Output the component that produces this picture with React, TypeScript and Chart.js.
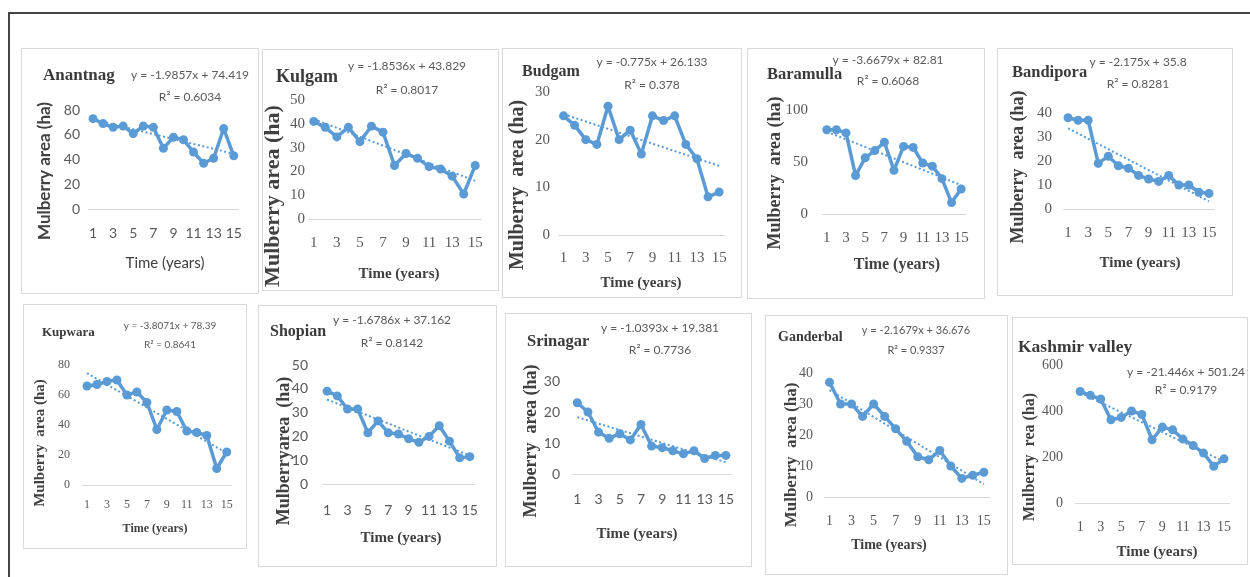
import { useEffect, useRef } from "react";
import { Chart, registerables } from "chart.js";

Chart.register(...registerables);

// Time axis (years 1..15)
const years = ["1", "2", "3", "4", "5", "6", "7", "8", "9", "10", "11", "12", "13", "14", "15"];

// Mulberry area (ha) per district
const anantnagArea = [73, 69, 66, 67, 61, 67, 66, 49, 58, 56, 46, 37, 41, 65, 43];
const kulgamArea = [41, 38.5, 34.5, 38.5, 32.5, 39, 36.5, 22.5, 27.5, 25.5, 22, 21, 18, 10.5, 22.5];
const budgamArea = [25, 23, 20, 19, 27, 20, 22, 17, 25, 24, 25, 19, 16, 8, 9];
const baramullaArea = [81, 81, 78, 37, 54, 61, 69, 42, 65, 64, 49, 46, 34, 11, 24];
const bandiporaArea = [38, 37, 37, 19, 22, 18, 17, 14, 12.5, 11.5, 14, 10, 10, 7, 6.5];
const kupwaraArea = [66, 67, 69, 70, 60, 62, 55, 37, 50, 49, 36, 35, 33, 11, 22];
const shopianArea = [39, 37, 31.5, 31.5, 21.5, 26.5, 21.5, 21, 19, 17.5, 20, 24.5, 18, 11, 11.5];
const srinagarArea = [23, 20, 13.5, 11.5, 13, 11, 16, 9, 8.5, 7.5, 6.5, 7.5, 5, 6, 6];
const ganderbalArea = [37, 30, 30, 26, 30, 26, 22, 18, 13, 12, 15, 10, 6, 7, 8];
const kashmirArea = [485, 468, 452, 362, 372, 400, 385, 275, 330, 318, 278, 250, 217, 160, 192];

// Linear trend lines (y = slope * x + intercept) and their R²
const districtNames = ["Anantnag", "Kulgam", "Budgam", "Baramulla", "Bandipora", "Kupwara", "Shopian", "Srinagar", "Ganderbal", "Kashmir valley"];
const trendSlopes = [-1.9857, -1.8536, -0.775, -3.6679, -2.175, -3.8071, -1.6786, -1.0393, -2.1679, -21.446];
const trendIntercepts = [74.419, 43.829, 26.133, 82.81, 35.8, 78.39, 37.162, 19.381, 36.676, 501.24];
const rSquared = ["0.6034", "0.8017", "0.378", "0.6068", "0.8281", "0.8641", "0.8142", "0.7736", "0.9337", "0.9179"];

// Axis ranges and labels
const yMaxima = [80, 50, 30, 100, 40, 80, 50, 30, 40, 600];
const ySteps = [20, 10, 10, 50, 10, 20, 10, 10, 10, 200];
const yAxisTitles = [
  "Mulberry area (ha)",
  "Mulberry area (ha)",
  "Mulberry  area (ha)",
  "Mulberry  area (ha)",
  "Mulberry  area (ha)",
  "Mulberry  area (ha)",
  "Mulberryarea  (ha)",
  "Mulberry  area (ha)",
  "Mulberry  area (ha)",
  "Mulberry  rea (ha)",
];
const xAxisTitle = "Time (years)";

const areaSeries = [anantnagArea, kulgamArea, budgamArea, baramullaArea, bandiporaArea, kupwaraArea, shopianArea, srinagarArea, ganderbalArea, kashmirArea];

const BLUE = "#5B9BD5";
const SERIF = "'Liberation Serif', 'Times New Roman', serif";
const SANS = "Lato, 'Open Sans', sans-serif";
const TEXT_DARK = "#404040";
const TEXT_GREY = "#595959";

type Font = { family: string; size: number; weight?: string };
type Layout = {
  box: [number, number, number, number];
  plot: [number, number, number, number];
  yTickRight: number;
  xTickY: number;
  tick: Font;
  title: { x: number; y: number; size: number };
  eq: { x: number; y1: number; y2: number; size: number };
  yTitle: { x: number; y: number } & Font;
  xTitle: { x: number; y: number } & Font;
};

// Placement of each small panel on the page
const layouts: Layout[] = [
  {
    box: [21, 48, 238, 246], plot: [88, 110, 242, 209], yTickRight: 80, xTickY: 233,
    tick: { family: SANS, size: 14 },
    title: { x: 43, y: 76, size: 17 },
    eq: { x: 190, y1: 75, y2: 97, size: 12 },
    yTitle: { x: 45, y: 171, family: SANS, size: 17, weight: "bold" },
    xTitle: { x: 165, y: 263, family: SANS, size: 15, weight: "normal" },
  },
  {
    box: [262, 49, 237, 242], plot: [308, 100, 490, 219], yTickRight: 305, xTickY: 243,
    tick: { family: SERIF, size: 15 },
    title: { x: 276, y: 77, size: 18 },
    eq: { x: 407, y1: 66, y2: 90, size: 12 },
    yTitle: { x: 273, y: 196, family: SERIF, size: 22, weight: "bold" },
    xTitle: { x: 399, y: 274, family: SERIF, size: 15, weight: "bold" },
  },
  {
    box: [502, 48, 240, 250], plot: [558, 92, 730, 235], yTickRight: 550, xTickY: 258,
    tick: { family: SERIF, size: 15 },
    title: { x: 522, y: 72, size: 16 },
    eq: { x: 652, y1: 62, y2: 85, size: 12 },
    yTitle: { x: 518, y: 185, family: SERIF, size: 20, weight: "bold" },
    xTitle: { x: 641, y: 283, family: SERIF, size: 15, weight: "bold" },
  },
  {
    box: [747, 48, 238, 251], plot: [822, 110, 973, 214], yTickRight: 808, xTickY: 238,
    tick: { family: SERIF, size: 15 },
    title: { x: 767, y: 75, size: 16.5 },
    eq: { x: 888, y1: 60, y2: 81, size: 12 },
    yTitle: { x: 775, y: 173, family: SERIF, size: 18, weight: "bold" },
    xTitle: { x: 897, y: 265, family: SERIF, size: 16, weight: "bold" },
  },
  {
    box: [997, 48, 236, 248], plot: [1063, 113, 1217, 209], yTickRight: 1052, xTickY: 233,
    tick: { family: SERIF, size: 15 },
    title: { x: 1012, y: 73, size: 16.5 },
    eq: { x: 1138, y1: 62, y2: 84, size: 12 },
    yTitle: { x: 1018, y: 167, family: SERIF, size: 18, weight: "bold" },
    xTitle: { x: 1140, y: 263, family: SERIF, size: 15, weight: "bold" },
  },
  {
    box: [23, 304, 224, 245], plot: [82, 365, 232, 485], yTickRight: 70, xTickY: 505,
    tick: { family: SERIF, size: 12 },
    title: { x: 42, y: 333, size: 13 },
    eq: { x: 170, y1: 326, y2: 345, size: 10 },
    yTitle: { x: 40, y: 443, family: SERIF, size: 15, weight: "bold" },
    xTitle: { x: 155, y: 529, family: SERIF, size: 12, weight: "bold" },
  },
  {
    box: [258, 305, 239, 262], plot: [322, 365, 483, 484], yTickRight: 308, xTickY: 510,
    tick: { family: SANS, size: 14 },
    title: { x: 270, y: 332, size: 16 },
    eq: { x: 392, y1: 320, y2: 343, size: 12 },
    yTitle: { x: 284, y: 451, family: SERIF, size: 18, weight: "bold" },
    xTitle: { x: 401, y: 538, family: SERIF, size: 15, weight: "bold" },
  },
  {
    box: [505, 313, 247, 254], plot: [572, 381, 739, 474], yTickRight: 560, xTickY: 499,
    tick: { family: SANS, size: 14 },
    title: { x: 527, y: 342, size: 16.5 },
    eq: { x: 660, y1: 328, y2: 350, size: 12 },
    yTitle: { x: 531, y: 441, family: SERIF, size: 18, weight: "bold" },
    xTitle: { x: 637, y: 534, family: SERIF, size: 15, weight: "bold" },
  },
  {
    box: [765, 315, 243, 260], plot: [824, 373, 991, 497], yTickRight: 813, xTickY: 521,
    tick: { family: SERIF, size: 14 },
    title: { x: 778, y: 337, size: 14 },
    eq: { x: 916, y1: 330, y2: 350, size: 11 },
    yTitle: { x: 792, y: 455, family: SERIF, size: 17, weight: "bold" },
    xTitle: { x: 889, y: 545, family: SERIF, size: 14, weight: "bold" },
  },
  {
    box: [1012, 317, 236, 248], plot: [1075, 365, 1236, 503], yTickRight: 1063, xTickY: 527,
    tick: { family: SERIF, size: 14 },
    title: { x: 1018, y: 347, size: 17.5 },
    eq: { x: 1186, y1: 372, y2: 390, size: 12 },
    yTitle: { x: 1030, y: 457, family: SERIF, size: 16, weight: "bold" },
    xTitle: { x: 1157, y: 552, family: SERIF, size: 15, weight: "bold" },
  },
];

type TextItem = {
  text: string;
  x: number;
  y: number;
  font: string;
  color: string;
  align: CanvasTextAlign;
  rotate?: boolean;
};

function Panel({ index }: { index: number }) {
  const canvasRef = useRef<HTMLCanvasElement>(null);
  const lay = layouts[index];
  const [bx, by, bw, bh] = lay.box;
  const W = bw - 2;
  const H = bh - 2;

  useEffect(() => {
    const canvas = canvasRef.current;
    if (!canvas) return;
    const ox = bx + 1;
    const oy = by + 1;
    const [pl, pt, pr, pb] = lay.plot;
    const L = pl - ox;
    const T = pt - oy;
    const R = pr - ox;
    const B = pb - oy;

    const slope = trendSlopes[index];
    const intercept = trendIntercepts[index];
    const trend = years.map((_, i) => slope * (i + 1) + intercept);
    const equation = `y = ${slope}x + ${intercept}`;

    const items: TextItem[] = [
      {
        text: districtNames[index],
        x: lay.title.x - ox,
        y: lay.title.y - oy,
        font: `bold ${lay.title.size}px ${SERIF}`,
        color: "#3a3a3a",
        align: "left",
      },
      {
        text: equation,
        x: lay.eq.x - ox,
        y: lay.eq.y1 - oy,
        font: `${lay.eq.size}px ${SANS}`,
        color: TEXT_GREY,
        align: "center",
      },
      {
        text: `R² = ${rSquared[index]}`,
        x: lay.eq.x - ox,
        y: lay.eq.y2 - oy,
        font: `${lay.eq.size}px ${SANS}`,
        color: TEXT_GREY,
        align: "center",
      },
      {
        text: yAxisTitles[index],
        x: lay.yTitle.x - ox,
        y: lay.yTitle.y - oy,
        font: `${lay.yTitle.weight ?? "bold"} ${lay.yTitle.size}px ${lay.yTitle.family}`,
        color: TEXT_DARK,
        align: "center",
        rotate: true,
      },
      {
        text: xAxisTitle,
        x: lay.xTitle.x - ox,
        y: lay.xTitle.y - oy,
        font: `${lay.xTitle.weight ?? "bold"} ${lay.xTitle.size}px ${lay.xTitle.family}`,
        color: TEXT_DARK,
        align: "center",
      },
    ];

    const panelText = {
      id: "panelText",
      afterDraw(chart: Chart) {
        const ctx = chart.ctx;
        for (const it of items) {
          ctx.save();
          ctx.font = it.font;
          ctx.fillStyle = it.color;
          ctx.textAlign = it.align;
          ctx.textBaseline = "middle";
          ctx.translate(it.x, it.y);
          if (it.rotate) ctx.rotate(-Math.PI / 2);
          ctx.fillText(it.text, 0, 0);
          ctx.restore();
        }
      },
    };

    const tickLineHeight = lay.tick.size * 1.2;
    const tickFont = { family: lay.tick.family, size: lay.tick.size };

    const chart = new Chart(canvas, {
      type: "line",
      data: {
        labels: years,
        datasets: [
          {
            data: trend,
            borderColor: BLUE,
            borderWidth: 2,
            borderDash: [2, 2.5],
            pointRadius: 0,
            fill: false,
            tension: 0,
            order: 2,
          },
          {
            data: areaSeries[index],
            borderColor: BLUE,
            backgroundColor: BLUE,
            borderWidth: 3.5,
            borderJoinStyle: "round",
            pointRadius: 4.5,
            pointBorderWidth: 0,
            pointBackgroundColor: BLUE,
            fill: false,
            tension: 0,
            order: 1,
          },
        ],
      },
      options: {
        animation: false,
        responsive: false,
        devicePixelRatio: 1,
        clip: false,
        layout: { padding: { left: 0, top: T, right: W - R, bottom: 0 } },
        plugins: {
          legend: { display: false },
          tooltip: { enabled: false },
          title: { display: false },
        },
        scales: {
          x: {
            type: "category",
            offset: true,
            grid: { display: false, drawTicks: false },
            border: { display: true, color: "#d9d9d9", width: 1 },
            ticks: {
              autoSkip: false,
              maxRotation: 0,
              minRotation: 0,
              padding: lay.xTickY - pb - tickLineHeight / 2,
              color: TEXT_GREY,
              font: tickFont,
              callback: (_v: unknown, i: number) => (i % 2 === 0 ? years[i] : ""),
            },
            afterFit: (s: any) => {
              s.height = H - B;
            },
          },
          y: {
            min: 0,
            max: yMaxima[index],
            grid: { display: false, drawTicks: false },
            border: { display: false },
            ticks: {
              stepSize: ySteps[index],
              padding: pl - lay.yTickRight,
              color: TEXT_GREY,
              font: tickFont,
            },
            afterFit: (s: any) => {
              s.width = L;
            },
          },
        },
      },
      plugins: [panelText],
    });
    return () => chart.destroy();
  }, [index]);

  return (
    <div
      style={{
        position: "absolute",
        left: bx,
        top: by,
        width: bw,
        height: bh,
        boxSizing: "border-box",
        border: "1px solid #d9d9d9",
        background: "#ffffff",
      }}
    >
      <canvas
        ref={canvasRef}
        width={W}
        height={H}
        style={{ position: "absolute", left: 0, top: 0, width: W, height: H }}
      />
    </div>
  );
}

export default function App() {
  return (
    <div
      style={{
        position: "absolute",
        left: 0,
        top: 0,
        width: 1250,
        height: 577,
        background: "#ffffff",
        overflow: "hidden",
      }}
    >
      <div
        style={{
          position: "absolute",
          left: 8,
          top: 12,
          width: 1260,
          height: 600,
          borderTop: "2px solid #444444",
          borderLeft: "2px solid #444444",
        }}
      />
      {layouts.map((_, i) => (
        <Panel key={i} index={i} />
      ))}
    </div>
  );
}
